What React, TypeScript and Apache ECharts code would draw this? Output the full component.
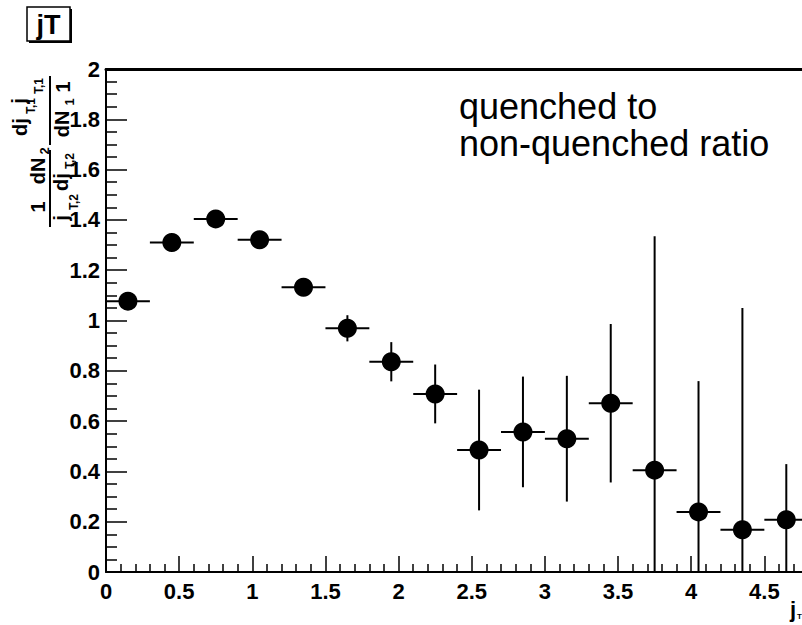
import React, { useEffect, useRef } from "react";
import * as echarts from "echarts";

// jT bins (centres) and quenched / non-quenched ratio
const binCenters = [0.15, 0.45, 0.75, 1.05, 1.35, 1.65, 1.95, 2.25, 2.55, 2.85, 3.15, 3.45, 3.75, 4.05, 4.35, 4.65];
const ratios = [1.077, 1.31, 1.404, 1.321, 1.132, 0.969, 0.836, 0.708, 0.485, 0.557, 0.53, 0.671, 0.405, 0.239, 0.168, 0.208];
const ratioErrors = [0.012, 0.012, 0.012, 0.014, 0.02, 0.052, 0.078, 0.117, 0.24, 0.22, 0.25, 0.315, 0.93, 0.52, 0.882, 0.221];
const binHalfWidth = 0.15;

const xMin = 0;
const xMax = 5;
const xInterval = 0.5;
const yMin = 0;
const yMax = 2;
const yInterval = 0.2;

const titleText = "jT";
const noteText = "quenched to\nnon-quenched ratio";

const LABEL_FONT = "Liberation Sans, Arial, Helvetica, sans-serif";

export default function App() {
  const ref = useRef<HTMLDivElement>(null);

  useEffect(() => {
    document.body.style.margin = "0";
    if (!ref.current) return;
    const chart = echarts.init(ref.current, undefined, { renderer: "svg" });

    const points = binCenters.map((x, i) => [x, ratios[i]]);
    const errData = binCenters.map((x, i) => [x, ratios[i], ratioErrors[i]]);

    const bold = (size: number) => `bold ${size}px ${LABEL_FONT}`;
    const rot = Math.PI / 2;
    const vText = (text: string, x: number, y: number, size: number) => ({
      type: "text",
      x,
      y,
      rotation: rot,
      silent: true,
      style: {
        text,
        font: bold(size),
        fill: "#000",
        align: "center",
        verticalAlign: "middle",
      },
    });
    const vLine = (x: number, y1: number, y2: number) => ({
      type: "line",
      silent: true,
      shape: { x1: x, y1, x2: x, y2 },
      style: { stroke: "#000", lineWidth: 2 },
    });

    const option: any = {
      animation: false,
      backgroundColor: "#fff",
      grid: {
        left: 106,
        top: 69,
        width: 731.5,
        height: 503,
        containLabel: false,
        outerBoundsMode: "none",
      },
      xAxis: [
        {
          type: "value",
          min: xMin,
          max: xMax,
          interval: xInterval,
          position: "bottom",
          axisLine: { show: true, onZero: false, lineStyle: { color: "#000", width: 2 } },
          axisTick: { show: true, inside: true, length: 16, lineStyle: { color: "#000", width: 1.5 } },
          minorTick: { show: true, splitNumber: 5, length: 8, lineStyle: { color: "#000", width: 1.5 } },
          axisLabel: {
            show: true,
            margin: 8,
            color: "#000",
            fontFamily: LABEL_FONT,
            fontWeight: "bold",
            fontSize: 22,
            showMaxLabel: false,
          },
          splitLine: { show: false },
          minorSplitLine: { show: false },
        },
        {
          type: "value",
          min: xMin,
          max: xMax,
          position: "top",
          axisLine: { show: true, onZero: false, lineStyle: { color: "#000", width: 3 } },
          axisTick: { show: false },
          axisLabel: { show: false },
          splitLine: { show: false },
        },
      ],
      yAxis: {
        type: "value",
        min: yMin,
        max: yMax,
        interval: yInterval,
        axisLine: { show: true, onZero: false, lineStyle: { color: "#000", width: 2 } },
        axisTick: { show: true, inside: true, length: 21, lineStyle: { color: "#000", width: 1.5 } },
        minorTick: { show: true, splitNumber: 4, length: 11, lineStyle: { color: "#000", width: 1.5 } },
        axisLabel: {
          show: true,
          margin: 6,
          color: "#000",
          fontFamily: LABEL_FONT,
          fontWeight: "bold",
          fontSize: 22,
        },
        splitLine: { show: false },
        minorSplitLine: { show: false },
      },
      series: [
        {
          type: "custom",
          xAxisIndex: 0,
          yAxisIndex: 0,
          data: errData,
          clip: true,
          renderItem: (params: any, api: any) => {
            const x = api.value(0);
            const y = api.value(1);
            const e = api.value(2);
            const lo = api.coord([x, Math.max(y - e, yMin)]);
            const hi = api.coord([x, Math.min(y + e, yMax)]);
            const l = api.coord([x - binHalfWidth, y]);
            const r = api.coord([x + binHalfWidth, y]);
            return {
              type: "group",
              children: [
                {
                  type: "line",
                  shape: { x1: lo[0], y1: lo[1], x2: hi[0], y2: hi[1] },
                  style: { stroke: "#000", lineWidth: 2 },
                },
                {
                  type: "line",
                  shape: { x1: l[0], y1: l[1], x2: r[0], y2: r[1] },
                  style: { stroke: "#000", lineWidth: 2 },
                },
              ],
            };
          },
          z: 2,
        },
        {
          type: "scatter",
          xAxisIndex: 0,
          yAxisIndex: 0,
          data: points,
          symbol: "circle",
          symbolSize: 19,
          itemStyle: { color: "#000", opacity: 1 },
          z: 3,
        },
      ],
      graphic: [
        // title box with ROOT-like shadow
        {
          type: "rect",
          silent: true,
          shape: { x: 29, y: 9, width: 43, height: 34 },
          style: { fill: "#000" },
        },
        {
          type: "rect",
          silent: true,
          shape: { x: 27, y: 7, width: 43, height: 34 },
          style: { fill: "#fff", stroke: "#000", lineWidth: 1.5 },
        },
        {
          type: "text",
          silent: true,
          x: 48.5,
          y: 25,
          style: {
            text: titleText,
            font: bold(27),
            fill: "#000",
            align: "center",
            verticalAlign: "middle",
          },
        },
        // annotation
        {
          type: "text",
          silent: true,
          x: 459,
          y: 88,
          style: {
            text: noteText,
            font: `36px ${LABEL_FONT}`,
            lineHeight: 37,
            fill: "#000",
            align: "left",
            verticalAlign: "top",
          },
        },
        // x-axis title j_T (at the right edge)
        {
          type: "text",
          silent: true,
          x: 790,
          y: 598,
          style: { text: "j", font: bold(22), fill: "#000", align: "left", verticalAlign: "top" },
        },
        {
          type: "text",
          silent: true,
          x: 797,
          y: 612,
          style: { text: "T", font: bold(8), fill: "#000", align: "left", verticalAlign: "top" },
        },
        // rotated y-axis title (ratio of normalised spectra)
        vLine(50, 150, 227),
        vLine(50, 76, 145),
        vText("1", 38, 207, 20),
        vText("dN", 38, 171, 20),
        vText("2", 44, 151, 13),
        vText("dj", 61, 182, 20),
        vText("T,2", 70, 161, 12),
        vText("j", 61, 218, 20),
        vText("T,2", 74, 202, 12),
        vText("dj", 20, 127, 20),
        vText("T,1", 31, 106, 12),
        vText("j", 19, 101, 20),
        vText("T,1", 39, 86, 12),
        vText("dN", 62, 124, 20),
        vText("1", 69, 102, 13),
        vText("1", 63, 87, 20),
      ],
    };

    chart.setOption(option);
    return () => {
      chart.dispose();
    };
  }, []);

  return (
    <div
      ref={ref}
      style={{ position: "absolute", left: 0, top: 0, width: 802, height: 625, background: "#fff" }}
    />
  );
}
